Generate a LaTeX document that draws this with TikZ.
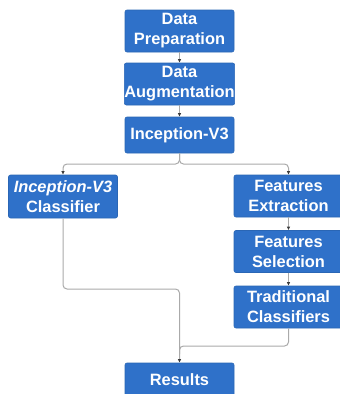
\documentclass[tikz,border=0pt]{standalone}
\usepackage{fontspec}
\setmainfont{Liberation Sans}
\usetikzlibrary{arrows.meta}
\definecolor{boxblue}{RGB}{47,113,201}
\definecolor{linegray}{RGB}{170,170,170}
\definecolor{tipgray}{RGB}{60,60,60}
\tikzset{
  stage/.style={draw=boxblue!90!black, line width=0.6pt, fill=boxblue, rounded corners=2pt,
    text=white, font=\fontsize{16.4}{20}\selectfont\bfseries, align=center,
    minimum width=109pt, inner sep=0pt},
  link/.style={draw=linegray, line width=1pt, rounded corners=4pt,
    -{Latex[length=3.5pt,width=3.5pt,color=tipgray]}},
  plain/.style={draw=linegray, line width=1pt, rounded corners=4pt}
}
\begin{document}
\begin{tikzpicture}[x=1pt,y=-1pt]
\useasboundingbox (0,0) rectangle (340,394);
\fill[white] (0,0) rectangle (340,394);
\clip (0,0) rectangle (340,394);

% main column
\node[stage, minimum height=42pt] (prep) at (179.5,31) {Data\\Preparation};
\node[stage, minimum height=42pt] (aug)  at (179.5,84) {Data\\Augmentation};
\node[stage, minimum height=36pt] (inc)  at (179.5,135) {Inception-V3};

% left branch
\node[stage, minimum height=43pt] (cls)  at (63,196.5) {\textit{Inception-V3}\\Classifier};

% right branch
\node[stage, minimum height=42pt] (fext) at (288.5,196) {Features\\Extraction};
\node[stage, minimum height=42pt] (fsel) at (288.5,251.5) {Features\\Selection};
\node[stage, minimum height=42pt] (trad) at (288.5,307) {Traditional\\Classifiers};

% output
\node[stage, minimum height=34pt] (res)  at (179.5,380) {Results};

\coordinate (split) at (179.5,164);
\coordinate (joinL) at (63,289);
\coordinate (joinR) at (288.5,346);
\coordinate (merge) at (179.5,354);

\draw[link] (prep) -- (aug);
\draw[link] (aug) -- (inc);
\draw[link] (inc.south) -- (split) -| (cls.north);
\draw[link] (inc.south) -- (split) -| (fext.north);
\draw[link] (fext) -- (fsel);
\draw[link] (fsel) -- (trad);
\draw[link] (cls.south) -- (joinL) -| (res.north);
\draw[plain] (trad.south) -- (joinR) -| (merge);
\end{tikzpicture}
\end{document}
